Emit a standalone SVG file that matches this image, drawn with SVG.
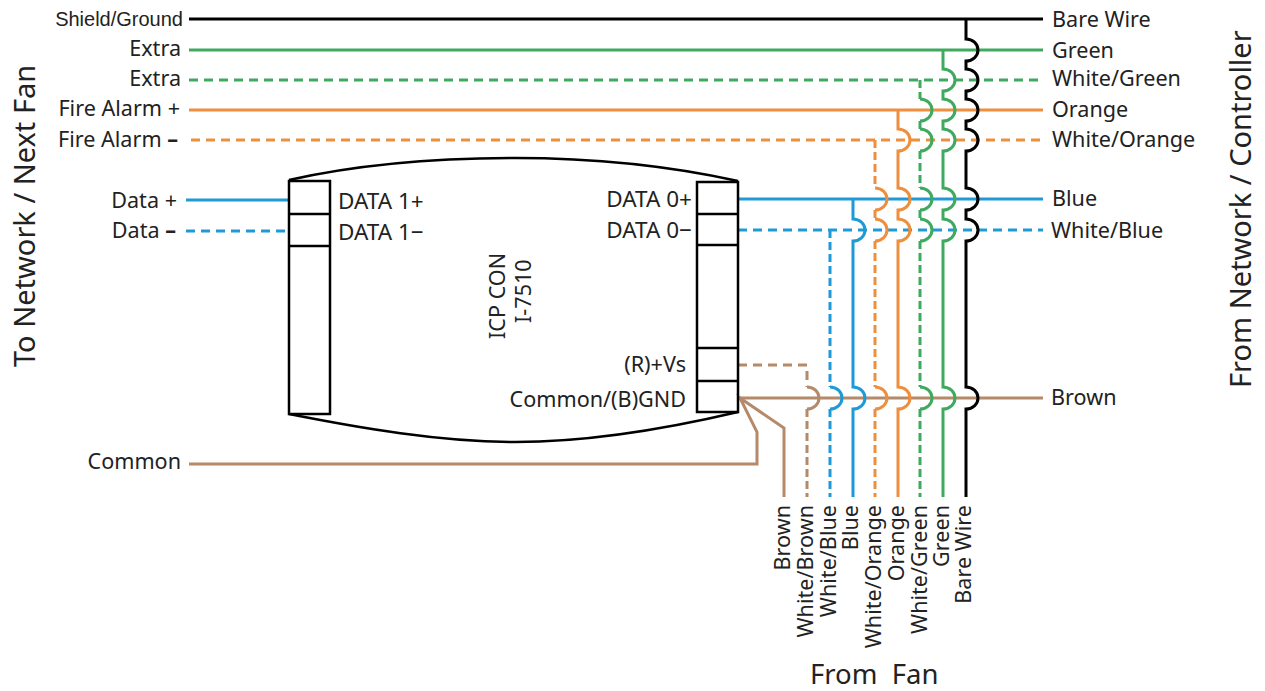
<svg xmlns="http://www.w3.org/2000/svg" width="1265" height="691" viewBox="0 0 1265 691">
<style>
text{font-family:"Noto Sans","Open Sans",sans-serif;font-size:21.6px;fill:#222}
.e{text-anchor:end}
.w{fill:none;stroke-width:3}
.d{stroke-dasharray:9 6}
.v{stroke-dasharray:8 4}
.k{stroke:#000}.g{stroke:#3fa95f}.o{stroke:#ee8f3f}.b{stroke:#1e9ad6}.n{stroke:#b48a6a}
.box{fill:none;stroke:#000;stroke-width:2.5}
.big{font-size:29px}
.cap{font-size:22.5px}
.m{font-weight:700}
</style>
<rect width="1265" height="691" fill="#fff"/>
<g id="connectors">
<path class="w k" d="M189 19H1043"/>
<path class="w g" d="M189 50H1043"/>
<path class="w g d" d="M189 80H1043"/>
<path class="w o" d="M189 110H1043"/>
<path class="w o d" d="M191 140H1043"/>
<path class="w b" d="M186 200H289M738 199H1043"/>
<path class="w b d" d="M186 231H289M738 230H1043"/>
<path class="w n" d="M738 398H1043"/>
<path class="w n d" d="M738 365H807V387"/>
<path class="w n" d="M189 464H757V432L740 398L784 428V497"/>
<path class="w n" d="M807 387A12 11 0 0 1 807 409"/>
<path class="w n v" d="M807 409V497"/>
<path class="w b v" d="M830 230V387M830 409V497"/>
<path class="w b" d="M830 387A12 11 0 0 1 830 409"/>
<path class="w b" d="M853 199V219A12 11 0 0 1 853 241V387A12 11 0 0 1 853 409V497"/>
<path class="w o v" d="M875 140V188M875 210V219M875 241V387M875 409V497"/>
<path class="w o" d="M875 188A12 11 0 0 1 875 210M875 219A12 11 0 0 1 875 241M875 387A12 11 0 0 1 875 409"/>
<path class="w o" d="M898 110V129A12 11 0 0 1 898 151V188A12 11 0 0 1 898 210V219A12 11 0 0 1 898 241V387A12 11 0 0 1 898 409V497"/>
<path class="w g v" d="M920 80V99M920 121V129M920 151V188M920 210V219M920 241V387M920 409V497"/>
<path class="w g" d="M920 99A12 11 0 0 1 920 121M920 129A12 11 0 0 1 920 151M920 188A12 11 0 0 1 920 210M920 219A12 11 0 0 1 920 241M920 387A12 11 0 0 1 920 409"/>
<path class="w g" d="M943 50V69A12 11 0 0 1 943 91V99A12 11 0 0 1 943 121V129A12 11 0 0 1 943 151V188A12 11 0 0 1 943 210V219A12 11 0 0 1 943 241V387A12 11 0 0 1 943 409V497"/>
<path class="w k" d="M966 19V39A12 11 0 0 1 966 61V69A12 11 0 0 1 966 91V99A12 11 0 0 1 966 121V129A12 11 0 0 1 966 151V188A12 11 0 0 1 966 210V219A12 11 0 0 1 966 241V387A12 11 0 0 1 966 409V497"/>
</g>
<g id="device">
<path class="box" d="M289 180C360 164 440 158 515 158C590 158 670 166 738 181"/>
<path class="box" d="M289 414C360 428 440 442 515 442C590 442 670 428 738 412"/>
<path class="box" d="M289 181H330V414H289ZM289 214H330M289 246H330"/>
<path class="box" d="M697 182H738V412H697ZM697 214H738M697 245H738M697 348H738M697 381H738"/>
<text class="cap" x="338" y="209">DATA 1+</text>
<text class="cap" x="338" y="240">DATA 1−</text>
<text class="cap e" x="692" y="207">DATA 0+</text>
<text class="cap e" x="692" y="238">DATA 0−</text>
<text class="e" x="686" y="372">(R)+Vs</text>
<text class="e" x="686" y="407">Common/(B)GND</text>
<text transform="translate(505,339) rotate(-90)">ICP CON</text>
<text transform="translate(531,323) rotate(-90)">I-7510</text>
</g>
<g id="left-labels">
<text class="e" x="183" y="26" style='font-family:"Liberation Sans",sans-serif;font-size:20px'>Shield/Ground</text>
<text class="e" x="181" y="56">Extra</text>
<text class="e" x="181" y="86">Extra</text>
<text class="e" x="180" y="116">Fire Alarm +</text>
<text class="e" x="178" y="147">Fire Alarm <tspan class="m">–</tspan></text>
<text class="e" x="177" y="208">Data +</text>
<text class="e" x="176" y="238">Data <tspan class="m">–</tspan></text>
<text class="e" x="181" y="469">Common</text>
<text class="big" transform="translate(35,367) rotate(-90)">To Network / Next Fan</text>
</g>
<g id="right-labels">
<text x="1052" y="27">Bare Wire</text>
<text x="1052" y="58">Green</text>
<text x="1052" y="86">White/Green</text>
<text x="1052" y="117">Orange</text>
<text x="1052" y="147">White/Orange</text>
<text x="1052" y="206">Blue</text>
<text x="1051" y="238">White/Blue</text>
<text x="1051" y="405">Brown</text>
<text class="big" transform="translate(1251,388) rotate(-90)">From Network / Controller</text>
</g>
<g id="bottom-labels">
<text class="e" transform="translate(790,505) rotate(-90)">Brown</text>
<text class="e" transform="translate(813,505) rotate(-90)">White/Brown</text>
<text class="e" transform="translate(836,505) rotate(-90)">White/Blue</text>
<text class="e" transform="translate(858,505) rotate(-90)">Blue</text>
<text class="e" transform="translate(881,505) rotate(-90)">White/Orange</text>
<text class="e" transform="translate(904,505) rotate(-90)">Orange</text>
<text class="e" transform="translate(927,505) rotate(-90)">White/Green</text>
<text class="e" transform="translate(949,505) rotate(-90)">Green</text>
<text class="e" transform="translate(971,505) rotate(-90)">Bare Wire</text>
<text x="810" y="684" style="font-size:27.5px" xml:space="preserve">From  Fan</text>
</g>
</svg>
